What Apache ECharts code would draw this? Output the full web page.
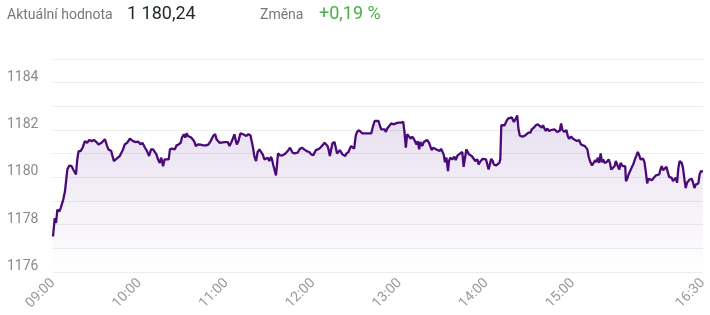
<!DOCTYPE html>
<html>
<head>
<meta charset="utf-8">
<script src="https://cdn.jsdelivr.net/npm/echarts@6/dist/echarts.min.js"></script>
<style>
html,body{margin:0;padding:0;background:#fff;}
#chart{width:710px;height:315px;}
</style>
</head>
<body>
<div id="chart"></div>
<script>
// Minutes since 09:00
const minutes = [
0,1.2,2.1,3.0,4.4,5.3,6.2,7.1,8.3,9.0,9.9,11.3,12.9,14.0,15.9,16.8,17.7,19.1,20.5,22.1,23.7,25.1,26.7,28.3,30.1,31.5,32.4,33.6,34.7,35.9,36.6,37.5,38.4,39.3,40.3,41.2,42.1,43.0,43.9,45.1,46.2,47.4,48.5,49.7,51.3,53.2,54.3,55.5,57.3,59.1,60.5,61.9,62.8,63.7,65.1,66.5,67.9,69.3,
70.4,71.6,72.7,73.9,75.0,76.2,77.3,78.5,80.1,81.0,82.4,84.2,85.6,87.0,88.4,89.3,90.6,91.6,92.5,93.4,94.6,95.7,97.1,98.0,98.9,100.3,102.2,104.0,106.1,107.7,109.1,110.0,110.9,112.3,113.2,114.1,115.3,116.4,118.7,121.0,122.2,123.3,124.5,125.6,126.5,127.2,128.4,129.8,130.7,131.6,132.5,133.9,135.3,136.7,137.6,138.5,139.4,140.6,141.7,
142.9,144.1,145.2,146.4,147.5,148.7,149.8,151.0,151.6,152.6,153.5,154.4,155.1,155.8,157.2,159.0,160.9,162.5,164.1,165.0,165.9,167.3,168.2,169.4,171.0,172.4,174.0,175.6,177.4,178.8,180.2,181.1,182.0,183.2,184.3,185.5,186.6,188.0,188.9,190.1,190.8,191.7,192.6,193.5,194.9,195.8,196.7,197.7,198.6,199.5,200.4,201.6,202.3,203.2,204.6,205.5,206.4,207.3,208.5,209.6,210.5,211.9,213.1,214.2,
215.3,217.6,220.4,221.3,222.7,224.0,225.4,226.4,227.3,228.6,229.6,230.5,231.4,232.8,234.2,235.1,236.0,237.4,239.2,241.1,242.5,243.4,244.3,245.2,246.6,247.5,248.7,249.8,251.0,251.7,252.6,253.5,254.4,255.6,256.7,257.6,259.0,260.4,261.3,262.2,263.2,264.1,265.5,266.8,267.8,268.7,269.6,270.5,271.4,272.4,273.5,274.2,275.1,276.5,277.9,278.8,280.2,282.0,283.4,284.3,285.3,286.2,287.1,288.0,288.9,289.9,
292.4,293.8,294.7,296.1,297.5,298.8,299.8,300.7,301.6,302.5,303.4,304.4,305.3,306.7,308.0,309.0,309.7,310.4,311.3,312.7,314.0,315.0,316.3,317.7,319.1,320.5,321.4,322.3,323.2,324.6,326.5,327.8,329.2,330.6,331.5,332.9,334.3,335.7,337.0,338.4,339.3,340.3,341.2,342.1,343.5,344.9,345.8,347.2,348.1,349.0,349.9,350.8,351.8,352.7,354.1,355.5,356.4,357.3,358.7,360.1,361.4,362.8,364.2,365.6,366.9,368.3,
370.0,370.9,371.8,373.2,374.6,375.5,376.4,377.3,378.2,379.2,380.1,381.0,381.9,383.3,384.7,385.6,386.5,387.4,388.8,389.7,391.1,392.1,393.0,394.4,395.3,396.2,396.7,397.6,398.5,399.4,400.6,401.7,402.9,404.0,404.9,405.9,406.8,407.7,408.6,409.5,410.5,411.4,412.3,413.2,414.6,416.0,417.4,418.7,419.7,420.6,421.5,422.4,423.3,424.7,425.6,426.6,427.5,428.4,429.3,430.2,431.2,432.1,433.0,433.9,435.3,436.2,437.2,438.1,439.0,439.9,440.8,442.2,443.1,444.1,445.0,445.9,446.8,447.7,448.6,450
];
const prices = [
1177.50,1178.28,1178.07,1178.63,1178.56,1178.70,1178.63,1179.06,1179.41,1179.48,1180.33,1180.50,1180.47,1180.33,1180.12,1180.76,1181.11,1181.11,1181.25,1181.53,1181.46,1181.58,1181.53,1181.58,1181.49,1181.39,1181.32,1181.46,1181.49,1181.61,1181.68,1181.32,1181.18,1181.21,1181.11,1180.90,1180.69,1180.76,1180.78,1180.83,1180.90,1180.90,1181.18,1181.39,1181.46,1181.63,1181.61,1181.53,1181.49,1181.51,1181.39,1181.46,1181.39,1181.25,1181.11,1180.90,1181.18,1181.18,
1181.11,1180.97,1180.76,1180.61,1180.83,1180.47,1180.76,1180.69,1180.76,1181.18,1181.21,1181.18,1181.35,1181.39,1181.46,1181.68,1181.82,1181.68,1181.86,1181.75,1181.78,1181.68,1181.58,1181.49,1181.32,1181.39,1181.38,1181.35,1181.35,1181.39,1181.53,1181.46,1181.75,1181.82,1181.61,1181.68,1181.46,1181.53,1181.49,1181.49,1181.32,1181.46,1181.63,1181.82,1181.89,1181.39,1181.53,1181.86,1181.92,1181.82,1181.78,1181.75,1181.82,1181.78,1181.75,1181.25,1180.90,1180.69,1181.07,
1181.18,1181.15,1180.97,1180.76,1180.69,1180.83,1180.69,1180.87,1180.76,1180.50,1180.47,1180.08,1180.54,1181.01,1180.93,1180.93,1181.01,1181.11,1181.25,1181.18,1181.04,1181.01,1180.93,1181.04,1181.21,1181.25,1181.18,1181.11,1181.07,1180.97,1180.93,1180.97,1181.15,1181.07,1181.21,1181.18,1181.35,1181.46,1181.39,1181.32,1181.18,1180.90,1181.18,1181.44,1181.49,1181.25,1181.01,1181.07,1181.15,1181.11,1180.97,1181.04,1180.90,1181.01,1181.07,1181.21,1181.32,1181.25,1181.21,1181.75,1181.92,1181.99,1181.96,1181.86,
1181.89,1181.86,1181.86,1182.10,1182.38,1182.45,1182.38,1182.17,1182.03,1182.00,1182.03,1181.92,1182.06,1182.17,1182.28,1182.31,1182.24,1182.28,1182.31,1182.31,1182.34,1181.89,1181.25,1181.82,1181.72,1181.63,1181.72,1181.63,1181.63,1181.39,1181.53,1181.18,1181.49,1181.32,1181.49,1181.53,1181.58,1181.46,1181.39,1181.15,1181.25,1181.32,1181.18,1181.21,1181.11,1181.21,1181.25,1180.97,1180.64,1180.83,1180.26,1180.69,1180.83,1180.76,1180.87,1180.73,1180.93,1181.01,1181.07,1180.44,1180.47,1181.18,1181.11,1180.97,1180.97,1180.90,
1180.69,1180.76,1180.54,1180.69,1180.78,1180.78,1180.76,1180.54,1180.33,1180.33,1180.78,1180.69,1180.54,1180.50,1180.50,1180.61,1180.76,1182.20,1182.28,1182.20,1182.38,1182.48,1182.43,1182.53,1182.34,1182.48,1182.62,1182.03,1181.77,1181.72,1181.75,1181.82,1181.89,1181.89,1182.03,1182.10,1182.20,1182.24,1182.24,1182.10,1182.20,1182.06,1181.96,1182.06,1181.96,1182.00,1182.06,1182.03,1182.00,1181.92,1181.89,1181.96,1182.28,1182.00,1181.92,1182.00,1181.75,1181.63,1181.72,1181.63,1181.68,1181.53,1181.58,1181.39,1181.32,1181.32,
1181.18,1180.87,1180.69,1180.50,1180.64,1180.73,1180.64,1180.83,1180.61,1181.01,1180.64,1180.76,1180.61,1180.64,1180.76,1180.61,1180.33,1180.40,1180.47,1180.69,1180.47,1180.33,1180.61,1180.47,1180.54,1180.47,1179.84,1179.94,1180.12,1180.19,1180.40,1180.54,1180.76,1180.93,1181.07,1180.93,1180.76,1180.69,1180.79,1180.64,1180.22,1179.74,1179.94,1180.02,1179.88,1179.98,1180.08,1180.08,1180.12,1180.33,1180.47,1180.30,1180.26,1180.44,1180.40,1180.02,1179.94,1179.98,1179.84,1179.79,1179.98,1179.77,1180.40,1180.69,1180.61,1180.40,1179.91,1179.55,1179.77,1179.84,1179.91,1179.94,1179.79,1179.55,1179.69,1179.65,1179.74,1180.12,1180.26,1180.24
];
const tickMinutes = [0, 60, 120, 180, 240, 300, 360, 450];
const tickLabels = ['09:00', '10:00', '11:00', '12:00', '13:00', '14:00', '15:00', '16:30'];
const yTickLabels = ['1176', '1178', '1180', '1182', '1184'];
const headerTexts = ['Aktuální hodnota', '1 180,24', 'Změna', '+0,19 %'];

const seriesData = minutes.map((m, i) => [m, prices[i]]);

const chart = echarts.init(document.getElementById('chart'), null, {renderer: 'canvas'});
const FONT = 'Roboto, "Noto Sans", sans-serif';

chart.setOption({
  animation: false,
  backgroundColor: '#ffffff',
  textStyle: {fontFamily: FONT},
  grid: {left: 53, right: 5, top: 59, bottom: 43, containLabel: false},
  graphic: [
    {type: 'text', x: 7, y: 15.5, style: {text: headerTexts[0], font: '14px ' + FONT, fill: '#777777', verticalAlign: 'middle', align: 'left'}},
    {type: 'text', x: 127, y: 14.5, style: {text: headerTexts[1], font: '18px ' + FONT, fill: '#1e2a22', verticalAlign: 'middle', align: 'left'}},
    {type: 'text', x: 260, y: 15.5, style: {text: headerTexts[2], font: '14px ' + FONT, fill: '#777777', verticalAlign: 'middle', align: 'left'}},
    {type: 'text', x: 319, y: 14.5, style: {text: headerTexts[3], font: '18px ' + FONT, fill: '#46b146', verticalAlign: 'middle', align: 'left'}}
  ],
  xAxis: {
    type: 'value',
    min: 0,
    max: 450,
    interval: 60,
    axisLine: {show: false},
    axisTick: {show: false},
    splitLine: {show: false},
    axisLabel: {
      customValues: tickMinutes,
      rotate: 45,
      margin: 9,
      fontSize: 14,
      color: '#9a9a9a',
      fontFamily: FONT,
      formatter: function (v) {
        const idx = tickMinutes.indexOf(Math.round(v));
        return idx >= 0 ? tickLabels[idx] : '';
      }
    }
  },
  yAxis: {
    type: 'value',
    min: 1176,
    max: 1185,
    interval: 1,
    position: 'left',
    axisLine: {show: false},
    axisTick: {show: false},
    splitLine: {show: true, lineStyle: {color: '#ececec', width: 1}},
    axisLabel: {
      align: 'left',
      verticalAlign: 'bottom',
      lineHeight: 11,
      margin: 46,
      fontSize: 14,
      color: '#8a8a8a',
      fontFamily: FONT,
      formatter: function (v) {
        const s = String(Math.round(v));
        return yTickLabels.indexOf(s) >= 0 ? s : '';
      }
    }
  },
  series: [{
    type: 'line',
    data: seriesData,
    showSymbol: false,
    symbol: 'none',
    smooth: false,
    lineStyle: {color: '#4a0a78', width: 2.3},
    itemStyle: {color: '#4a0a78'},
    areaStyle: {
      origin: 'start',
      color: new echarts.graphic.LinearGradient(0, 0, 0, 1, [
        {offset: 0, color: 'rgba(110,60,160,0.24)'},
        {offset: 1, color: 'rgba(110,60,160,0.0)'}
      ])
    }
  }]
});
</script>
</body>
</html>
